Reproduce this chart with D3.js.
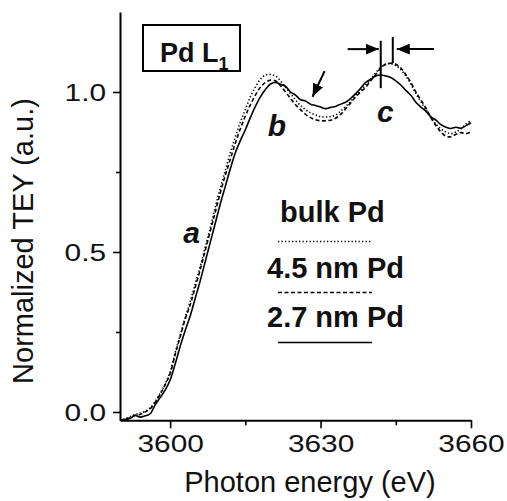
<!DOCTYPE html>
<html>
<head>
<meta charset="utf-8">
<script src="https://cdn.jsdelivr.net/npm/d3@7"></script>
<style>
  html, body { margin: 0; padding: 0; background: #fff; }
  svg { display: block; font-family: "Liberation Sans", Arial, Helvetica, sans-serif; }
</style>
</head>
<body>
<svg id="chart" width="507" height="501"></svg>
<script>
// Photon energy grid (eV), 1 eV steps
const energy = d3.range(3590, 3661, 1);

// Normalized total electron yield at the Pd L1 edge
const bulkPd = [
  -0.026, -0.022, -0.015, -0.008, -0.004, 0.002, 0.012, 0.032, 0.058, 0.088,
  0.125, 0.185, 0.240, 0.295, 0.345, 0.400, 0.455, 0.515, 0.575, 0.640,
  0.700, 0.755, 0.810, 0.860, 0.905, 0.945, 0.985, 1.015, 1.040, 1.053,
  1.055, 1.050, 1.035, 1.015, 0.995, 0.975, 0.958, 0.945, 0.935, 0.928,
  0.923, 0.922, 0.923, 0.928, 0.940, 0.955, 0.970, 0.990, 1.005, 1.022,
  1.040, 1.060, 1.078, 1.087, 1.088, 1.083, 1.070, 1.050, 1.025, 0.995,
  0.970, 0.945, 0.920, 0.900, 0.885, 0.875, 0.870, 0.875, 0.885, 0.900,
  0.910
];
const pd45 = [
  -0.026, -0.022, -0.018, -0.010, -0.008, 0.000, 0.010, 0.030, 0.055, 0.085,
  0.120, 0.180, 0.235, 0.290, 0.335, 0.390, 0.445, 0.505, 0.565, 0.625,
  0.685, 0.740, 0.790, 0.840, 0.885, 0.925, 0.960, 0.990, 1.015, 1.030,
  1.037, 1.035, 1.020, 1.000, 0.980, 0.960, 0.945, 0.930, 0.920, 0.913,
  0.910, 0.910, 0.912, 0.918, 0.930, 0.948, 0.966, 0.985, 1.000, 1.015,
  1.035, 1.055, 1.075, 1.087, 1.090, 1.087, 1.075, 1.055, 1.030, 1.000,
  0.975, 0.950, 0.920, 0.895, 0.875, 0.862, 0.860, 0.868, 0.873, 0.870,
  0.875
];
const pd27 = [
  -0.026, -0.024, -0.020, -0.011, -0.016, -0.012, -0.006, 0.022, 0.045, 0.068,
  0.100, 0.150, 0.205, 0.255, 0.300, 0.355, 0.410, 0.470, 0.530, 0.590,
  0.650, 0.705, 0.760, 0.810, 0.848, 0.882, 0.920, 0.955, 0.985, 1.008,
  1.025, 1.030, 1.024, 1.018, 1.000, 0.990, 0.976, 0.972, 0.962, 0.958,
  0.953, 0.948, 0.952, 0.955, 0.962, 0.968, 0.980, 0.995, 1.012, 1.030,
  1.040, 1.050, 1.053, 1.050, 1.045, 1.035, 1.022, 1.005, 0.990, 0.968,
  0.953, 0.940, 0.922, 0.912, 0.898, 0.890, 0.886, 0.890, 0.887, 0.895,
  0.903
];

// Axis ticks
const xMajor = [3600, 3630, 3660];
const xMinor = [3615, 3645];
const yMajor = [0.0, 0.5, 1.0];
const yMinor = [0.25, 0.75];

// Series names and dash styles
const seriesNames = ["bulk Pd", "4.5 nm Pd", "2.7 nm Pd"];
const seriesData = [bulkPd, pd45, pd27];
const seriesDash = ["1.3,2.2", "4,2.5", null];

// Spectral feature labels: [energy, level] of each letter's baseline centre
const peakLabels = ["a", "b", "c"];
const peakAt = [[3604.3, 0.528], [3621.3, 0.862], [3642.9, 0.906]];

const svg = d3.select("#chart");

const x = d3.scaleLinear().domain([3590, 3660]).range([120, 471]);
const y = d3.scaleLinear().domain([-0.026, 1.25]).range([420.3, 12]);

// ---- axes ----
const xAxisG = svg.append("g").attr("transform", `translate(0,${y(-0.026)})`);
xAxisG.call(d3.axisBottom(x).tickValues(xMajor).tickSize(8).tickSizeOuter(0).tickPadding(7)
  .tickFormat(d3.format("d")));
xAxisG.append("g").call(d3.axisBottom(x).tickValues(xMinor).tickSize(5).tickSizeOuter(0).tickFormat(""))
  .select(".domain").remove();

const yAxisG = svg.append("g").attr("transform", `translate(${x(3590)},0)`);
yAxisG.call(d3.axisLeft(y).tickValues(yMajor).tickSize(7).tickSizeOuter(0).tickPadding(4)
  .tickFormat(d3.format(".1f")));
yAxisG.append("g").call(d3.axisLeft(y).tickValues(yMinor).tickSize(4).tickSizeOuter(0).tickFormat(""))
  .select(".domain").remove();

svg.selectAll(".domain").attr("stroke", "#000").attr("stroke-width", 2);
svg.selectAll(".tick line").attr("stroke", "#000").attr("stroke-width", 1.6);
svg.selectAll(".tick text")
  .attr("fill", "#111")
  .style("font-size", "23.5px")
  .style("font-family", "'Liberation Sans', Arial, sans-serif");
// wide tick numerals
xAxisG.selectAll(".tick text").attr("transform", "scale(1.27,1)");
yAxisG.selectAll(".tick text").attr("transform", "scale(1.27,1)").attr("dy", "0.36em");

// axis titles
svg.append("text")
  .attr("x", 310).attr("y", 492)
  .attr("text-anchor", "middle")
  .style("font-size", "29px").attr("fill", "#111")
  .text("Photon energy (eV)");
svg.append("text")
  .attr("transform", "translate(33,241) rotate(-90)")
  .attr("text-anchor", "middle")
  .style("font-size", "29px").attr("fill", "#111")
  .text("Normalized TEY (a.u.)");

// ---- spectra ----
const line = d3.line()
  .x((d, i) => x(energy[i]))
  .y(d => y(d))
  .curve(d3.curveCatmullRom.alpha(0.5));

svg.append("g").selectAll("path")
  .data(seriesData)
  .join("path")
  .attr("d", d => line(d))
  .attr("fill", "none")
  .attr("stroke", "#000")
  .attr("stroke-width", 1.6)
  .attr("stroke-dasharray", (d, i) => seriesDash[i]);

// ---- edge label box ----
svg.append("rect")
  .attr("x", 143).attr("y", 25).attr("width", 97).attr("height", 46)
  .attr("fill", "none").attr("stroke", "#000").attr("stroke-width", 2);
const boxText = svg.append("text")
  .attr("x", 160).attr("y", 62)
  .style("font-size", "27px").style("font-weight", "bold").attr("fill", "#111");
boxText.append("tspan").text("Pd L");
boxText.append("tspan").attr("dy", 8).style("font-size", "18px").text("1");

// ---- feature letters ----
svg.append("g").selectAll("text")
  .data(peakLabels)
  .join("text")
  .attr("x", (d, i) => x(peakAt[i][0]))
  .attr("y", (d, i) => y(peakAt[i][1]))
  .attr("text-anchor", "middle")
  .style("font-size", "30px").style("font-weight", "bold").style("font-style", "italic")
  .attr("fill", "#111")
  .text(d => d);

// ---- arrows ----
const defs = svg.append("defs");
defs.append("marker")
  .attr("id", "head").attr("viewBox", "0 0 12 10")
  .attr("refX", 12).attr("refY", 5)
  .attr("markerWidth", 13).attr("markerHeight", 11)
  .attr("markerUnits", "userSpaceOnUse")
  .attr("orient", "auto")
  .append("path").attr("d", "M0,0 L12,5 L0,10 Z").attr("fill", "#000");

// slanted arrow towards the dip after peak b
svg.append("line")
  .attr("x1", x(3630.8)).attr("y1", y(1.065))
  .attr("x2", x(3628.4)).attr("y2", y(0.985))
  .attr("stroke", "#000").attr("stroke-width", 2).attr("marker-end", "url(#head)");
// horizontal arrows marking the shift of feature c
svg.append("line")
  .attr("x1", x(3635.4)).attr("y1", y(1.134))
  .attr("x2", x(3641.6)).attr("y2", y(1.134))
  .attr("stroke", "#000").attr("stroke-width", 2).attr("marker-end", "url(#head)");
svg.append("line")
  .attr("x1", x(3652.6)).attr("y1", y(1.134))
  .attr("x2", x(3645.2)).attr("y2", y(1.134))
  .attr("stroke", "#000").attr("stroke-width", 2).attr("marker-end", "url(#head)");
// vertical markers at the two peak positions
svg.append("line")
  .attr("x1", x(3642)).attr("x2", x(3642))
  .attr("y1", y(1.16)).attr("y2", y(1.012))
  .attr("stroke", "#000").attr("stroke-width", 2);
svg.append("line")
  .attr("x1", x(3644.4)).attr("x2", x(3644.4))
  .attr("y1", y(1.172)).attr("y2", y(1.09))
  .attr("stroke", "#000").attr("stroke-width", 2);

// ---- legend ----
const legX = [280, 267, 267];
const legY = [222, 278, 327];
const legLineY = [241.5, 292.5, 342.5];
const leg = svg.append("g");
seriesNames.forEach((name, i) => {
  leg.append("text")
    .attr("x", legX[i]).attr("y", legY[i])
    .attr("fill", "#111")
    .style("font-weight", "bold")
    .style("font-size", "29px")
    .text(name);
  leg.append("line")
    .attr("x1", 278).attr("x2", 372)
    .attr("y1", legLineY[i]).attr("y2", legLineY[i])
    .attr("stroke", "#000").attr("stroke-width", 1.6)
    .attr("stroke-dasharray", seriesDash[i]);
});
</script>
</body>
</html>
